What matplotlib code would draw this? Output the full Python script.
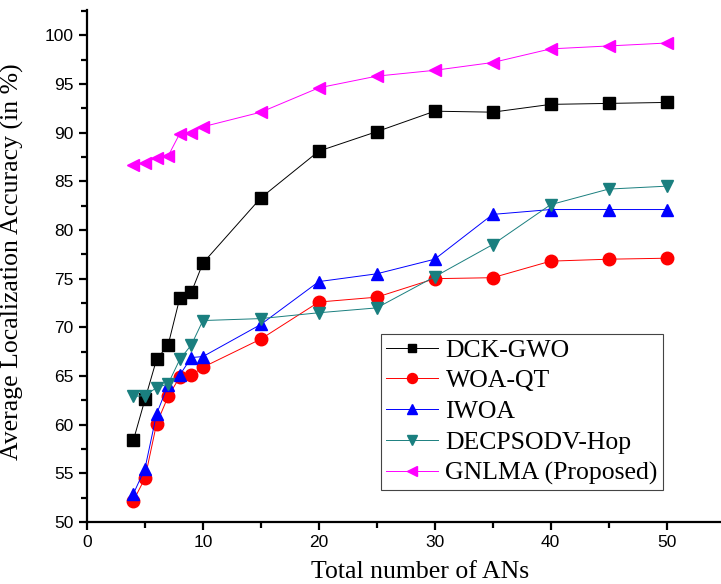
import numpy as np
import matplotlib
matplotlib.use('Agg')
import matplotlib.pyplot as plt
from matplotlib.ticker import MultipleLocator

# number of anchor nodes
ans = [4, 5, 6, 7, 8, 9, 10, 15, 20, 25, 30, 35, 40, 45, 50]

dck_gwo = [58.4, 62.6, 66.7, 68.2, 73.0, 73.6, 76.6, 83.3, 88.1, 90.1, 92.2, 92.1, 92.9, 93.0, 93.1]
woa_qt = [52.2, 54.5, 60.1, 62.9, 64.9, 65.1, 65.9, 68.8, 72.6, 73.1, 75.0, 75.1, 76.8, 77.0, 77.1]
iwoa = [52.9, 55.5, 61.1, 64.1, 65.1, 66.9, 67.0, 70.3, 74.7, 75.5, 77.0, 81.6, 82.1, 82.1, 82.1]
decpsodv = [62.9, 63.0, 63.8, 64.2, 66.7, 68.2, 70.7, 70.9, 71.5, 72.0, 75.2, 78.5, 82.6, 84.2, 84.5]
gnlma = [86.7, 86.9, 87.4, 87.6, 89.9, 90.0, 90.6, 92.1, 94.6, 95.8, 96.4, 97.2, 98.6, 98.9, 99.2]

names = ['DCK-GWO', 'WOA-QT', 'IWOA', 'DECPSODV-Hop', 'GNLMA (Proposed)']
series = [dck_gwo, woa_qt, iwoa, decpsodv, gnlma]
colors = ['black', '#ff0000', '#0000ff', '#1a7f7f', '#ff00ff']
markers = ['s', 'o', '^', 'v', '<']
msizes = [8, 9, 9, 9, 9]

fig = plt.figure(figsize=(7.21, 5.84), dpi=100)
ax = fig.add_axes([0.1207, 0.106, 0.8793, 0.877])

for y, name, c, m, ms in zip(series, names, colors, markers, msizes):
    ax.plot(ans, y, color=c, lw=0.7, marker=m, markersize=ms,
            markeredgecolor=c, markerfacecolor=c, label=name)

ax.set_xlim(0, 54.7)
ax.set_ylim(50, 102.6)
ax.xaxis.set_major_locator(MultipleLocator(10))
ax.xaxis.set_minor_locator(MultipleLocator(5))
ax.yaxis.set_major_locator(MultipleLocator(5))
ax.yaxis.set_minor_locator(MultipleLocator(2.5))
ax.spines['top'].set_visible(False)
ax.spines['right'].set_visible(False)
ax.spines['left'].set_linewidth(1.6)
ax.spines['bottom'].set_linewidth(1.6)
ax.tick_params(which='major', direction='out', length=6, width=1.6, labelsize=12.5)
ax.tick_params(which='minor', direction='out', length=4, width=1.6)
for lbl in ax.get_xticklabels() + ax.get_yticklabels():
    lbl.set_family('Liberation Sans')

ax.set_xlabel('Total number of ANs', family='Liberation Serif', fontsize=18.5)
ax.set_ylabel('Average Localization Accuracy (in %)', family='Liberation Serif', fontsize=18.5)
ax.xaxis.set_label_coords(0.525, -0.075)
ax.yaxis.set_label_coords(-0.1, 0.508)

leg = ax.legend(loc='lower right', bbox_to_anchor=(0.9085, 0.0625),
                prop={'family': 'Liberation Serif', 'size': 18.5},
                fancybox=False, framealpha=1, edgecolor='#444444',
                handlelength=2.0, handletextpad=0.3, labelspacing=0.3,
                borderpad=0.2, borderaxespad=0, markerscale=0.8)
leg.get_frame().set_linewidth(0.8)

fig.savefig('out.png', dpi=100)
